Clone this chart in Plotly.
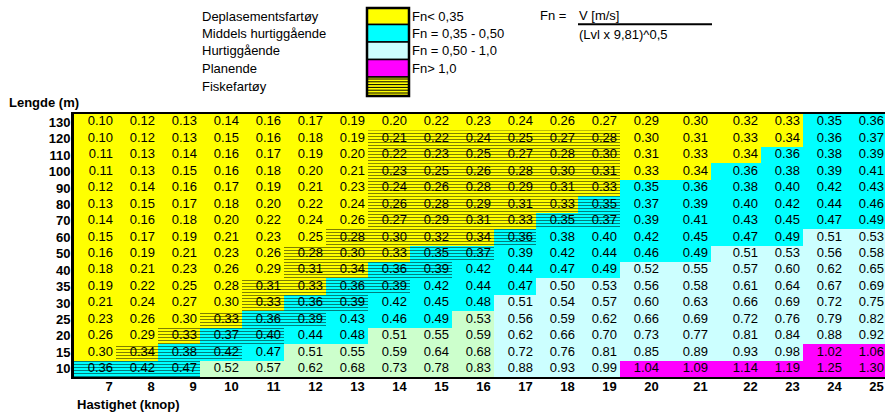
import plotly.graph_objects as go

# ---------------- data ----------------
SPEEDS = [7, 8, 9, 10, 11, 12, 13, 14, 15, 16, 17, 18, 19, 20, 21, 22, 23, 24, 25]  # knop
LENGTHS = [130, 120, 110, 100, 90, 80, 70, 60, 50, 40, 35, 30, 25, 20, 15, 10]      # m

FN_130 = [0.10, 0.12, 0.13, 0.14, 0.16, 0.17, 0.19, 0.20, 0.22, 0.23, 0.24, 0.26, 0.27, 0.29, 0.30, 0.32, 0.33, 0.35, 0.36]
FN_120 = [0.10, 0.12, 0.13, 0.15, 0.16, 0.18, 0.19, 0.21, 0.22, 0.24, 0.25, 0.27, 0.28, 0.30, 0.31, 0.33, 0.34, 0.36, 0.37]
FN_110 = [0.11, 0.13, 0.14, 0.16, 0.17, 0.19, 0.20, 0.22, 0.23, 0.25, 0.27, 0.28, 0.30, 0.31, 0.33, 0.34, 0.36, 0.38, 0.39]
FN_100 = [0.11, 0.13, 0.15, 0.16, 0.18, 0.20, 0.21, 0.23, 0.25, 0.26, 0.28, 0.30, 0.31, 0.33, 0.34, 0.36, 0.38, 0.39, 0.41]
FN_90 = [0.12, 0.14, 0.16, 0.17, 0.19, 0.21, 0.23, 0.24, 0.26, 0.28, 0.29, 0.31, 0.33, 0.35, 0.36, 0.38, 0.40, 0.42, 0.43]
FN_80 = [0.13, 0.15, 0.17, 0.18, 0.20, 0.22, 0.24, 0.26, 0.28, 0.29, 0.31, 0.33, 0.35, 0.37, 0.39, 0.40, 0.42, 0.44, 0.46]
FN_70 = [0.14, 0.16, 0.18, 0.20, 0.22, 0.24, 0.26, 0.27, 0.29, 0.31, 0.33, 0.35, 0.37, 0.39, 0.41, 0.43, 0.45, 0.47, 0.49]
FN_60 = [0.15, 0.17, 0.19, 0.21, 0.23, 0.25, 0.28, 0.30, 0.32, 0.34, 0.36, 0.38, 0.40, 0.42, 0.45, 0.47, 0.49, 0.51, 0.53]
FN_50 = [0.16, 0.19, 0.21, 0.23, 0.26, 0.28, 0.30, 0.33, 0.35, 0.37, 0.39, 0.42, 0.44, 0.46, 0.49, 0.51, 0.53, 0.56, 0.58]
FN_40 = [0.18, 0.21, 0.23, 0.26, 0.29, 0.31, 0.34, 0.36, 0.39, 0.42, 0.44, 0.47, 0.49, 0.52, 0.55, 0.57, 0.60, 0.62, 0.65]
FN_35 = [0.19, 0.22, 0.25, 0.28, 0.31, 0.33, 0.36, 0.39, 0.42, 0.44, 0.47, 0.50, 0.53, 0.56, 0.58, 0.61, 0.64, 0.67, 0.69]
FN_30 = [0.21, 0.24, 0.27, 0.30, 0.33, 0.36, 0.39, 0.42, 0.45, 0.48, 0.51, 0.54, 0.57, 0.60, 0.63, 0.66, 0.69, 0.72, 0.75]
FN_25 = [0.23, 0.26, 0.30, 0.33, 0.36, 0.39, 0.43, 0.46, 0.49, 0.53, 0.56, 0.59, 0.62, 0.66, 0.69, 0.72, 0.76, 0.79, 0.82]
FN_20 = [0.26, 0.29, 0.33, 0.37, 0.40, 0.44, 0.48, 0.51, 0.55, 0.59, 0.62, 0.66, 0.70, 0.73, 0.77, 0.81, 0.84, 0.88, 0.92]
FN_15 = [0.30, 0.34, 0.38, 0.42, 0.47, 0.51, 0.55, 0.59, 0.64, 0.68, 0.72, 0.76, 0.81, 0.85, 0.89, 0.93, 0.98, 1.02, 1.06]
FN_10 = [0.36, 0.42, 0.47, 0.52, 0.57, 0.62, 0.68, 0.73, 0.78, 0.83, 0.88, 0.93, 0.99, 1.04, 1.09, 1.14, 1.19, 1.25, 1.30]

ROWS = [FN_130, FN_120, FN_110, FN_100, FN_90, FN_80, FN_70, FN_60,
        FN_50, FN_40, FN_35, FN_30, FN_25, FN_20, FN_15, FN_10]

# Fiskefartøy (hatched) speed span per length
FISHING_SPAN = {120: (14, 19), 110: (14, 19), 100: (14, 19), 90: (14, 19), 80: (14, 19),
                70: (14, 19), 60: (13, 17), 50: (12, 16), 40: (12, 15), 35: (11, 14),
                30: (11, 13), 25: (10, 12), 20: (9, 11), 15: (8, 10), 10: (7, 9)}
# light-green cells (speed span per length)
GREEN_SPAN = {25: (16, 16), 20: (14, 16), 15: (12, 16), 10: (10, 16)}

LEGEND_NAMES = ["Deplasementsfartøy", "Middels hurtiggående", "Hurtiggående", "Planende", "Fiskefartøy"]
LEGEND_RANGES = ["Fn< 0,35", "Fn = 0,35 - 0,50", "Fn = 0,50 - 1,0", "Fn> 1,0", ""]

# ---------------- style ----------------
YELLOW, CYAN, LCYAN, MAGENTA, GREEN = "#FFFF00", "#00FFFF", "#CCFFFF", "#FF00FF", "#CCFFCC"
CLASS_COLORS = [YELLOW, CYAN, LCYAN, MAGENTA, GREEN]
FONT = "Liberation Sans, Arial, sans-serif"
W, H = 885, 412
ML, MT, MB = 74, 114, 35
PX_PER_UNIT = 42.0
COL_W = [1.0] * 14 + [49 / 42, 50 / 42, 1.0, 1.0, 1.0]
TEXT_PAD = 3 / PX_PER_UNIT
LABEL_OFFSET = 10.5 / PX_PER_UNIT   # centre of a right-aligned two-digit label

edges = [0.0]
for w in COL_W:
    edges.append(edges[-1] + w)
right_edges = edges[1:]
plot_w = W - ML
plot_h = H - MT - MB
xmax = plot_w / PX_PER_UNIT


def px2x(px):
    return (px - ML) / plot_w


def px2y(py):
    return 1 - (py - MT) / plot_h


def cls(v):
    if v < 0.35:
        return 0
    if v < 0.50:
        return 1
    if v <= 1.0:
        return 2
    return 3


ylabels = [str(L) for L in LENGTHS]
z = []
for L, row in zip(LENGTHS, ROWS):
    zr = []
    for s, v in zip(SPEEDS, row):
        c = cls(v)
        if L in GREEN_SPAN and GREEN_SPAN[L][0] <= s <= GREEN_SPAN[L][1]:
            c = 4
        zr.append(c)
    z.append(zr)

n = len(CLASS_COLORS)
cscale = []
for i, c in enumerate(CLASS_COLORS):
    cscale.append([i / n, c])
    cscale.append([(i + 1) / n, c])

fig = go.Figure()
fig.add_trace(go.Heatmap(x=edges, y=ylabels, z=z, colorscale=cscale, zmin=-0.5, zmax=n - 0.5,
                         showscale=False, hoverinfo="skip"))

# cell numbers
tx, ty, tt = [], [], []
for L, row in zip(LENGTHS, ROWS):
    for j, v in enumerate(row):
        tx.append(right_edges[j] - TEXT_PAD)
        ty.append(str(L))
        tt.append(f"{v:.2f}")
fig.add_trace(go.Scatter(x=tx, y=ty, text=tt, mode="text", textposition="middle left",
                         textfont=dict(family=FONT, size=13, color="black"), hoverinfo="skip",
                         showlegend=False))

# hatching (overlay axes so it is drawn above the numbers)
hy, hx, hb = [], [], []
for i, L in enumerate(LENGTHS):
    if L in FISHING_SPAN:
        a, b = FISHING_SPAN[L]
        for j, s in enumerate(SPEEDS):
            if a <= s <= b:
                hy.append(i)
                hx.append(COL_W[j])
                hb.append(edges[j])
fig.add_trace(go.Bar(y=hy, x=hx, base=hb, orientation="h", width=1.0, xaxis="x2", yaxis="y2",
                     marker=dict(color="rgba(0,0,0,0)", line=dict(width=0),
                                 pattern=dict(shape="-", fgcolor="black", bgcolor="rgba(0,0,0,0)",
                                              size=3, solidity=0.34)),
                     hoverinfo="skip", showlegend=False))

shapes = []
annotations = []

# legend boxes
box_y = [(8, 24.5), (24.5, 42), (42, 59.5), (59.5, 77), (77, 96)]
for k, (y0, y1) in enumerate(box_y):
    fill = CLASS_COLORS[k] if k < 4 else YELLOW
    shapes.append(dict(type="rect", xref="paper", yref="paper", x0=px2x(367), x1=px2x(409),
                       y0=px2y(y0), y1=px2y(y1), fillcolor=fill, line=dict(color="black", width=1.5)))
    yc = (y0 + y1) / 2
    annotations.append(dict(text=LEGEND_NAMES[k], xref="paper", yref="paper", x=px2x(201), y=px2y(yc),
                            xanchor="left", yanchor="middle", showarrow=False, borderpad=0,
                            font=dict(family=FONT, size=13, color="black")))
    if LEGEND_RANGES[k]:
        annotations.append(dict(text=LEGEND_RANGES[k], xref="paper", yref="paper", x=px2x(411), y=px2y(yc),
                                xanchor="left", yanchor="middle", showarrow=False, borderpad=0,
                                font=dict(family=FONT, size=13, color="black")))
hy_line = 79.0
while hy_line < 95.5:
    shapes.append(dict(type="line", xref="paper", yref="paper", x0=px2x(367), x1=px2x(409),
                       y0=px2y(hy_line), y1=px2y(hy_line), line=dict(color="black", width=1)))
    hy_line += 2.8
shapes.append(dict(type="rect", xref="paper", yref="paper", x0=px2x(367), x1=px2x(409),
                   y0=px2y(8), y1=px2y(96), line=dict(color="black", width=2.5)))

# formula
for txt, xp, yp in [("Fn =", 539, 16), ("V [m/s]", 578, 16), ("(Lvl x 9,81)^0,5", 578, 34)]:
    annotations.append(dict(text=txt, xref="paper", yref="paper", x=px2x(xp), y=px2y(yp),
                            xanchor="left", yanchor="middle", showarrow=False, borderpad=0,
                            font=dict(family=FONT, size=13, color="black")))
shapes.append(dict(type="line", xref="paper", yref="paper", x0=px2x(578), x1=px2x(712),
                   y0=px2y(24.3), y1=px2y(24.3), line=dict(color="black", width=2)))

# axis titles
annotations.append(dict(text="Lengde (m)", xref="paper", yref="paper", x=px2x(8), y=px2y(102),
                        xanchor="left", yanchor="middle", showarrow=False, borderpad=0,
                        font=dict(family=FONT, size=13, color="black", weight="bold")))
annotations.append(dict(text="Hastighet (knop)", xref="paper", yref="paper", x=px2x(76), y=px2y(404),
                        xanchor="left", yanchor="middle", showarrow=False, borderpad=0,
                        font=dict(family=FONT, size=13, color="black", weight="bold")))

# speed labels: right-aligned in their column (single digits padded with a figure space)
speed_text = [("\u2007" + str(s)) if s < 10 else str(s) for s in SPEEDS]
speed_ticks = [e - LABEL_OFFSET for e in right_edges]

fig.update_layout(
    width=W, height=H, margin=dict(l=ML, r=0, t=MT, b=MB, pad=0),
    paper_bgcolor="white", plot_bgcolor="white", showlegend=False, barmode="overlay",
    font=dict(family=FONT, size=13, color="black"),
    xaxis=dict(range=[0, xmax], tickvals=speed_ticks, ticktext=speed_text,
               ticklabelstandoff=-4,
               ticks="", showgrid=False, zeroline=False,
               showline=True, mirror=True, linewidth=2, linecolor="black",
               tickfont=dict(family=FONT, size=13, color="black", weight="bold"), fixedrange=True),
    yaxis=dict(type="category", categoryorder="array", categoryarray=ylabels,
               range=[len(LENGTHS) - 0.5, -0.5], ticks="", showgrid=False, zeroline=False,
               showline=True, linewidth=3, linecolor="black", ticklabelstandoff=-2,
               tickfont=dict(family=FONT, size=13, color="black", weight="bold"), fixedrange=True),
    xaxis2=dict(overlaying="x", range=[0, xmax], visible=False, fixedrange=True),
    yaxis2=dict(overlaying="y", range=[len(LENGTHS) - 0.5, -0.5], visible=False, fixedrange=True),
    shapes=shapes, annotations=annotations,
)

fig.write_html("out.html", config={"displayModeBar": False},
               post_script="document.body.style.margin='0px';document.body.style.overflow='hidden';")
